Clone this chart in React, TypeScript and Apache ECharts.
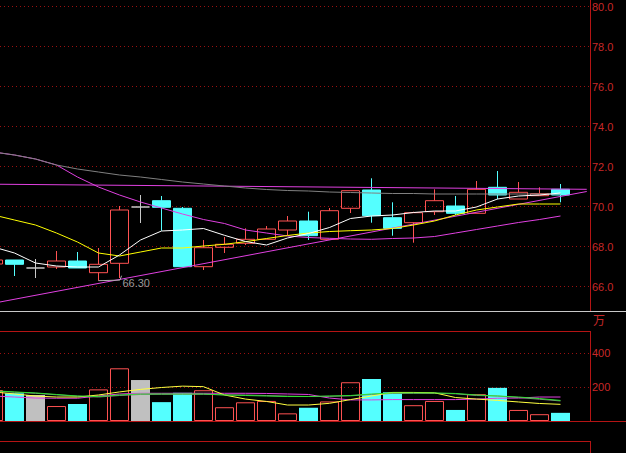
import React, { useEffect, useRef } from "react";
import * as echarts from "echarts";

// ---- data (k = candle slot index; slot 0 is the partly hidden first candle) ----
const slots = [0, 1, 2, 3, 4, 5, 6, 7, 8, 9, 10, 11, 12, 13, 14, 15, 16, 17, 18, 19, 20, 21, 22, 23, 24, 25, 26, 27];

const opens = [67.135, 67.335, 66.935, 66.985, 67.285, 66.7, 67.17, 69.985, 70.3, 69.92, 67.0, 67.97, 68.17, 68.37, 68.835, 69.285, 68.37, 69.92, 70.835, 69.45, 69.2, 69.75, 70.035, 69.67, 70.97, 70.385, 70.55, 70.87];
const closes = [67.335, 67.12, 66.935, 67.285, 66.935, 67.12, 69.835, 69.985, 69.97, 67.0, 67.95, 68.12, 68.37, 68.885, 69.285, 68.55, 69.8, 70.8, 69.55, 68.92, 69.7, 70.3, 69.67, 70.87, 70.585, 70.72, 70.65, 70.585];
const lows = [67.0, 66.535, 66.435, 66.885, 66.935, 66.3, 66.435, 69.185, 68.8, 67.0, 66.835, 67.685, 68.085, 68.37, 68.585, 68.335, 68.37, 69.685, 69.2, 68.55, 68.2, 69.585, 69.585, 69.67, 70.37, 70.385, 70.55, 70.22];
const highs = [67.6, 67.335, 67.385, 67.785, 67.735, 67.935, 70.035, 70.585, 70.535, 69.985, 68.335, 68.485, 68.92, 69.035, 69.535, 69.75, 69.935, 70.8, 71.42, 70.22, 69.75, 70.87, 70.535, 71.285, 71.785, 71.235, 70.97, 71.135];

const ma5 = [67.985, 67.685, 67.185, 67.035, 66.985, 66.985, 67.585, 68.335, 68.785, 68.835, 68.91, 68.57, 68.26, 68.085, 68.435, 68.66, 68.96, 69.41, 69.535, 69.585, 69.71, 69.785, 69.785, 69.985, 70.385, 70.535, 70.585, 70.685];
const ma10 = [69.585, 69.335, 69.085, 68.685, 68.235, 67.685, 67.535, 67.735, 67.935, 67.935, 68.035, 68.12, 68.25, 68.41, 68.56, 68.685, 68.76, 68.8, 68.835, 68.91, 69.085, 69.285, 69.585, 69.835, 69.985, 70.135, 70.135, 70.135];
const ma20 = [72.735, 72.585, 72.385, 72.085, 71.485, 70.985, 70.585, 70.235, 69.935, 69.635, 69.36, 69.16, 68.835, 68.685, 68.535, 68.46, 68.42, 68.385, 68.37, 68.41, 68.435, 68.51, 68.685, 68.86, 69.035, 69.21, 69.36, 69.535];
const ma60 = [72.735, 72.585, 72.385, 72.085, 71.885, 71.735, 71.585, 71.485, 71.36, 71.235, 71.135, 71.035, 70.935, 70.86, 70.81, 70.785, 70.735, 70.71, 70.685, 70.66, 70.66, 70.635, 70.635, 70.635, 70.635, 70.635, 70.635, 70.635];

// trend lines: [slot position, price]
const trendTop = [[0, 71.125], [28.25, 70.87]];
const trendBottom = [[0, 65.175], [28.25, 70.76]];
const lowMark = [[5, 66.3], [6.02, 66.33], [6.1, 66.55]];
const lowLabelAt = [6.02, 66.33];
const lowLabel = "66.30";

const volumes = [182, 163, 153, 88, 100, 186, 310, 241, 111, 166, 181, 81, 110, 118, 45, 78, 115, 228, 247, 169, 93, 118, 65, 158, 195, 65, 40, 48];
const vma5 = [171, 159, 147, 141, 141, 153, 171, 186, 197, 205, 202, 153, 129, 115, 94, 94, 104, 126, 147, 168, 168, 166, 138, 129, 121, 112, 103, 98];
const vma10 = [178, 171, 165, 156, 147, 144, 153, 159, 159, 159, 159, 153, 150, 147, 144, 144, 147, 150, 159, 165, 165, 165, 162, 153, 147, 141, 132, 121];
const vma20 = [147, 141, 135, 134, 134, 147, 159, 163, 163, 163, 163, 163, 163, 162, 159, 156, 135, 124, 124, 126, 126, 126, 126, 129, 134, 135, 141, 141];
const vma60 = [176, 169, 163, 154, 146, 141, 150, 156, 157, 157, 157, 154, 153, 150, 146, 144, 145, 148, 156, 162, 163, 163, 160, 150, 147, 138, 128, 118];

const slotRange = { min: 0.31, max: 28.405 };
const priceTicks = { min: 66, max: 80, interval: 2 };
const volTicks = { min: 0, max: 400, interval: 200 };
const volUnit = "万";

// ---- styles ----
const RED = "#ff5252";
const CYAN = "#54ffff";
const DOJI = "#c8c8c8";
const AXIS = "#b41414";
const LABEL = "#c82828";
const DOT = "#9a1010";
const FONT = "Liberation Sans";

export default function App() {
  const ref = useRef<HTMLDivElement>(null);
  useEffect(() => {
    const chart = echarts.init(ref.current!, undefined, { renderer: "svg" });
    const pair = (arr: number[]) => arr.map((v, k) => [slots[k], v]);
    const candles = opens.map((o, k) => [slots[k], o, closes[k], lows[k], highs[k]]);
    const volData = volumes.map((v, k) => {
      const up = closes[k] > opens[k];
      const down = closes[k] < opens[k];
      return {
        value: [slots[k], v],
        itemStyle: up
          ? { color: "rgba(0,0,0,0)", borderColor: RED, borderWidth: 1 }
          : down
          ? { color: CYAN }
          : { color: "#c0c0c0" },
      };
    });
    const line = (data: any, color: string, axis: number, extra: any = {}) => ({
      type: "line",
      data,
      xAxisIndex: axis,
      yAxisIndex: axis,
      symbol: "none",
      showSymbol: false,
      clip: false,
      silent: true,
      lineStyle: { color, width: 1 },
      z: 5,
      ...extra,
    });
    const yCommon = {
      type: "value",
      position: "right",
      axisLine: { show: false },
      axisTick: { show: false },
      splitLine: { show: true, lineStyle: { color: DOT, type: [1, 3], width: 1 } },
    };
    chart.setOption({
      animation: false,
      backgroundColor: "#000",
      grid: [
        { left: 0, width: 590, top: 6.7, height: 280 },
        { left: 0, width: 590, top: 353, height: 68 },
      ],
      xAxis: [
        { type: "value", min: slotRange.min, max: slotRange.max, gridIndex: 0, show: false },
        { type: "value", min: slotRange.min, max: slotRange.max, gridIndex: 1, show: false },
      ],
      yAxis: [
        {
          ...yCommon,
          gridIndex: 0,
          min: priceTicks.min,
          max: priceTicks.max,
          interval: priceTicks.interval,
          axisLabel: {
            color: LABEL,
            fontSize: 11,
            fontFamily: FONT,
            margin: 2,
            formatter: (v: number) => v.toFixed(1),
          },
        },
        {
          ...yCommon,
          gridIndex: 1,
          min: volTicks.min,
          max: volTicks.max,
          interval: volTicks.interval,
          axisLabel: {
            color: LABEL,
            fontSize: 11,
            fontFamily: FONT,
            margin: 2,
            showMinLabel: false,
          },
        },
      ],
      series: [
        {
          type: "candlestick",
          data: candles,
          xAxisIndex: 0,
          yAxisIndex: 0,
          encode: { x: 0, y: [1, 2, 3, 4] },
          barWidth: 18,
          clip: false,
          z: 2,
          itemStyle: {
            color: "rgba(0,0,0,0)",
            color0: CYAN,
            borderColor: RED,
            borderColor0: CYAN,
            borderColorDoji: DOJI,
            borderWidth: 1,
          },
        },
        line(trendTop, "#e040e0", 0),
        line(trendBottom, "#e040e0", 0),
        line(pair(ma20), "#e040e0", 0),
        line(pair(ma60), "#808080", 0),
        line(pair(ma10), "#ffff00", 0),
        line(pair(ma5), "#ffffff", 0),
        line(lowMark, "#b0b0b0", 0),
        {
          type: "scatter",
          xAxisIndex: 0,
          yAxisIndex: 0,
          symbolSize: 1,
          clip: false,
          silent: true,
          itemStyle: { color: "rgba(0,0,0,0)" },
          z: 6,
          data: [
            {
              value: lowLabelAt,
              label: {
                show: true,
                position: "right",
                distance: 2,
                offset: [0, 3],
                formatter: lowLabel,
                color: "#c0c0c0",
                fontSize: 11,
                fontFamily: FONT,
              },
            },
          ],
        },
        {
          type: "bar",
          data: volData,
          xAxisIndex: 1,
          yAxisIndex: 1,
          barWidth: 19,
          silent: true,
          z: 2,
        },
        line(pair(vma60), "#808080", 1),
        line(pair(vma20), "#e040e0", 1),
        line(pair(vma5), "#ffff40", 1),
        line(pair(vma10), "#30e030", 1),
      ],
      graphic: [
        { type: "line", z: 100, shape: { x1: 0, y1: 311.5, x2: 626, y2: 311.5 }, style: { stroke: "#c8c8c8", lineWidth: 1 } },
        { type: "line", z: 100, shape: { x1: 590.5, y1: 0, x2: 590.5, y2: 311 }, style: { stroke: AXIS, lineWidth: 1 } },
        { type: "line", z: 100, shape: { x1: 590.5, y1: 331, x2: 590.5, y2: 421 }, style: { stroke: AXIS, lineWidth: 1 } },
        { type: "line", z: 100, shape: { x1: 590.5, y1: 441, x2: 590.5, y2: 453 }, style: { stroke: AXIS, lineWidth: 1 } },
        { type: "line", z: 100, shape: { x1: 0, y1: 331.5, x2: 591, y2: 331.5 }, style: { stroke: AXIS, lineWidth: 1 } },
        { type: "line", z: 100, shape: { x1: 0, y1: 421.5, x2: 626, y2: 421.5 }, style: { stroke: AXIS, lineWidth: 1 } },
        { type: "line", z: 100, shape: { x1: 0, y1: 441.5, x2: 591, y2: 441.5 }, style: { stroke: AXIS, lineWidth: 1 } },
        {
          type: "text",
          z: 100,
          x: 593,
          y: 313,
          style: { text: volUnit, fill: LABEL, font: '12px "Noto Sans CJK SC"', verticalAlign: "top" },
        },
      ],
    });
    return () => chart.dispose();
  }, []);
  return (
    <div
      ref={ref}
      style={{ position: "fixed", left: 0, top: 0, width: 626, height: 453, background: "#000" }}
    />
  );
}
